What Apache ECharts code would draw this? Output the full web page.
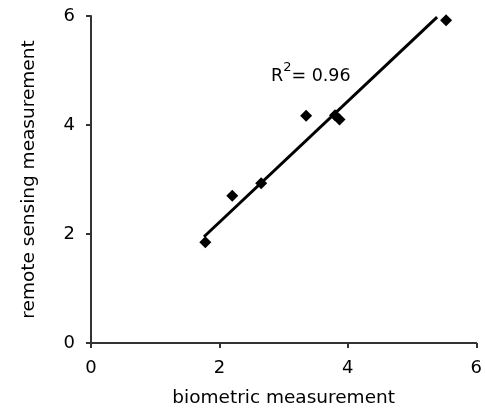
<!DOCTYPE html>
<html>
<head>
<meta charset="utf-8">
<script src="https://cdn.jsdelivr.net/npm/echarts@6/dist/echarts.min.js"></script>
<style>
  html, body { margin: 0; padding: 0; background: #fff; }
  #chart { width: 485px; height: 414px; }
</style>
</head>
<body>
<div id="chart"></div>
<script>
// measured points
const bioX = [1.78, 2.2, 2.65, 3.35, 3.8, 3.87, 5.53]
const remoteY = [1.85, 2.7, 2.93, 4.17, 4.18, 4.1, 5.92]
// fitted line ends, as drawn
const fitX = [1.76, 5.39]
const fitY = [1.95, 5.98]
const xTicks = [0, 2, 4, 6]
const yTicks = [0, 2, 4, 6]
const r2Label = '0.96'

const font = 'DejaVu Sans'
const axisColor = '#333'

const chart = echarts.init(document.getElementById('chart'), null, { renderer: 'canvas' })

function axisCommon(name, gap, margin, ticks) {
  return {
    type: 'value',
    min: ticks[0],
    max: ticks[ticks.length - 1],
    interval: ticks[1] - ticks[0],
    name: name,
    nameLocation: 'middle',
    nameGap: gap,
    nameTextStyle: { fontFamily: font, fontSize: 18.5, color: '#000' },
    axisLine: { show: true, lineStyle: { color: axisColor, width: 2 } },
    axisTick: { show: true, inside: false, length: 5, lineStyle: { color: axisColor, width: 2 } },
    axisLabel: { fontFamily: font, fontSize: 18, color: '#000', margin: margin },
    splitLine: { show: false }
  }
}

chart.setOption({
  animation: false,
  backgroundColor: '#fff',
  grid: { left: 91, right: 5, top: 16, bottom: 71, containLabel: false },
  xAxis: axisCommon('biometric measurement', 46, 16, xTicks),
  yAxis: axisCommon('remote sensing measurement', 52, 16, yTicks),
  graphic: [{
    type: 'text',
    left: 271,
    top: 61,
    style: {
      text: '{r|R}{s|2}{r|= ' + r2Label + '}',
      fill: '#000',
      rich: {
        r: { fontFamily: font, fontSize: 17.5, color: '#000', lineHeight: 24, verticalAlign: 'bottom' },
        s: { fontFamily: font, fontSize: 13, color: '#000', lineHeight: 24, verticalAlign: 'top' }
      }
    }
  }],
  series: [
    {
      type: 'line',
      data: fitX.map((x, i) => [x, fitY[i]]),
      showSymbol: false,
      lineStyle: { color: '#000', width: 3 },
      z: 2
    },
    {
      type: 'scatter',
      data: bioX.map((x, i) => [x, remoteY[i]]),
      symbol: 'diamond',
      symbolSize: 12,
      itemStyle: { color: '#000', opacity: 1 },
      z: 3
    }
  ]
})
</script>
</body>
</html>
